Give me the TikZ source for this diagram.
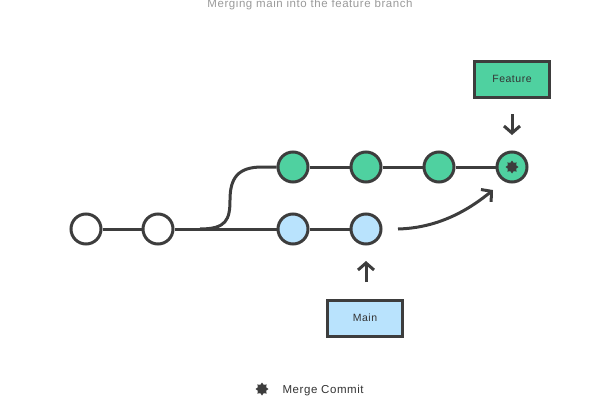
\documentclass[tikz,border=0pt]{standalone}
\usepackage{fontspec}
\setmainfont{Liberation Sans}[LetterSpace=5]
\usetikzlibrary{arrows.meta,shapes.geometric}
\definecolor{lineC}{HTML}{3D3D3D}
\definecolor{greenC}{HTML}{4FD1A0}
\definecolor{blueC}{HTML}{B9E3FD}
\definecolor{titleC}{HTML}{9A9A9A}
\definecolor{textC}{HTML}{333333}
\tikzset{
  commit/.style={circle, draw=lineC, line width=3pt, minimum size=30pt, inner sep=0pt},
  plain/.style={commit, fill=white},
  feat/.style={commit, fill=greenC},
  mainc/.style={commit, fill=blueC},
  branchbox/.style={draw=lineC, line width=3pt, minimum width=75pt, minimum height=36pt, inner sep=0pt, font=\fontsize{10.5}{12}\selectfont, text=textC},
  link/.style={draw=lineC, line width=3pt},
  pointer/.style={draw=lineC, line width=3pt, -{Straight Barb[length=7pt,width=16pt,line width=3pt]}},
  mergestar/.style={star, star points=8, star point ratio=1.45, minimum size=13pt, inner sep=0pt, fill=lineC, draw=none},
}
\begin{document}
\begin{tikzpicture}[x=1pt,y=-1pt]
\useasboundingbox (0,0) rectangle (598,402);
\node[font=\fontsize{11.5}{13}\selectfont, text=titleC, anchor=base] (title) at (310,7) {Merging main into the feature branch};
% commits
\node[plain] (c1) at (86,229) {};
\node[plain] (c2) at (158,229) {};
\node[mainc] (m1) at (293,229) {};
\node[mainc] (m2) at (366,229) {};
\node[feat] (f1) at (293,167) {};
\node[feat] (f2) at (366,167) {};
\node[feat] (f3) at (439,167) {};
\node[feat] (f4) at (512,167) {};
\node[mergestar] (mstar) at (512,167) {};
\coordinate (fork) at (200,229);
\coordinate (mergestart) at (398,229);
\coordinate (mergeend) at (493,190);
% connectors
\draw[link] (c1) -- (c2);
\draw[link] (c2) -- (m1);
\draw[link] (m1) -- (m2);
\draw[link] (fork) .. controls (226,229) and (230,220) .. (230,200) .. controls (230,178) and (238,167) .. (262,167) -- (f1);
\draw[link] (f1) -- (f2);
\draw[link] (f2) -- (f3);
\draw[link] (f3) -- (f4);
\draw[pointer] (mergestart) .. controls (435,228) and (465,213) .. (mergeend);
% labels
\node[branchbox, fill=greenC] (feature) at (512,79) {Feature};
\node[branchbox, fill=blueC] (main) at (365,318) {Main};
\draw[pointer] (512,114) -- (512,135);
\draw[pointer] (366,282) -- (366,261);
% legend
\node[mergestar] (lstar) at (262,389) {};
\node[anchor=west, font=\fontsize{11.5}{13}\selectfont, text=textC] (legend) at (279,390.5) {Merge Commit};
\end{tikzpicture}
\end{document}
